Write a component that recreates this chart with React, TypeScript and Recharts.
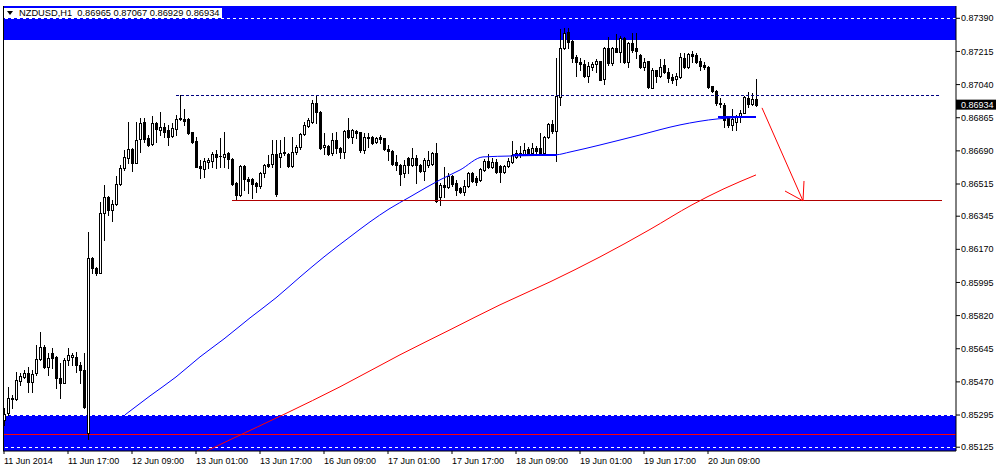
import React from 'react';
import { ComposedChart, Bar, Line, XAxis, YAxis, ReferenceArea, ReferenceLine } from 'recharts';

const openV = [0.85269,0.85306,0.85380,0.85380,0.85475,0.85496,0.85518,0.85470,0.85518,0.85591,0.85654,0.85549,0.85623,0.85602,0.85491,0.85465,0.85586,0.85602,0.85602,0.85560,0.85533,0.85200,0.86124,0.86072,0.86045,0.86362,0.86447,0.86378,0.86410,0.86516,0.86600,0.86653,0.86700,0.86626,0.86753,0.86843,0.86758,0.86727,0.86838,0.86801,0.86816,0.86801,0.86769,0.86806,0.86859,0.86859,0.86859,0.86790,0.86742,0.86610,0.86595,0.86632,0.86637,0.86674,0.86663,0.86658,0.86679,0.86647,0.86521,0.86457,0.86610,0.86542,0.86542,0.86521,0.86505,0.86574,0.86621,0.86621,0.86674,0.86658,0.86684,0.86674,0.86610,0.86684,0.86711,0.86779,0.86822,0.86843,0.86943,0.86896,0.86711,0.86716,0.86679,0.86748,0.86706,0.86684,0.86801,0.86764,0.86795,0.86790,0.86695,0.86764,0.86764,0.86737,0.86764,0.86758,0.86700,0.86690,0.86632,0.86616,0.86574,0.86653,0.86616,0.86653,0.86616,0.86584,0.86616,0.86621,0.86679,0.86447,0.86510,0.86500,0.86558,0.86521,0.86494,0.86473,0.86505,0.86574,0.86547,0.86537,0.86589,0.86637,0.86605,0.86632,0.86610,0.86579,0.86610,0.86632,0.86658,0.86679,0.86674,0.86700,0.86679,0.86706,0.86706,0.86679,0.86764,0.86832,0.86795,0.86975,0.87233,0.87318,0.87270,0.87186,0.87159,0.87149,0.87085,0.87133,0.87149,0.87165,0.87070,0.87233,0.87154,0.87233,0.87212,0.87286,0.87159,0.87260,0.87233,0.87196,0.87133,0.87165,0.87022,0.87117,0.87085,0.87144,0.87107,0.87080,0.87070,0.87080,0.87180,0.87133,0.87202,0.87196,0.87165,0.87144,0.87133,0.87033,0.87006,0.86943,0.86933,0.86869,0.86827,0.86843,0.86869,0.86890,0.86970,0.86938,0.86965];
const highV = [0.85333,0.85444,0.85401,0.85523,0.85518,0.85533,0.85549,0.85533,0.85665,0.85734,0.85665,0.85623,0.85650,0.85605,0.85570,0.85596,0.85650,0.85623,0.85628,0.85575,0.85623,0.86262,0.86127,0.86075,0.86420,0.86510,0.86450,0.86431,0.86558,0.86616,0.86695,0.86843,0.86703,0.86843,0.86864,0.86864,0.86774,0.86875,0.86840,0.86896,0.86838,0.86827,0.86838,0.86880,0.86985,0.86911,0.86861,0.86792,0.86764,0.86642,0.86653,0.86653,0.86684,0.86695,0.86758,0.86790,0.86684,0.86653,0.86523,0.86616,0.86616,0.86552,0.86547,0.86526,0.86579,0.86621,0.86669,0.86748,0.86748,0.86748,0.86764,0.86679,0.86764,0.86721,0.86785,0.86843,0.86864,0.86959,0.86985,0.86898,0.86785,0.86721,0.86785,0.86790,0.86711,0.86801,0.86864,0.86806,0.86801,0.86792,0.86785,0.86785,0.86766,0.86764,0.86774,0.86760,0.86721,0.86695,0.86669,0.86621,0.86642,0.86658,0.86706,0.86669,0.86618,0.86653,0.86690,0.86684,0.86732,0.86521,0.86605,0.86574,0.86563,0.86537,0.86500,0.86537,0.86579,0.86579,0.86558,0.86600,0.86647,0.86674,0.86653,0.86647,0.86616,0.86616,0.86653,0.86742,0.86695,0.86716,0.86732,0.86711,0.86732,0.86716,0.86785,0.86769,0.86838,0.86853,0.87180,0.87333,0.87339,0.87339,0.87273,0.87196,0.87180,0.87170,0.87159,0.87159,0.87175,0.87167,0.87239,0.87291,0.87239,0.87307,0.87297,0.87291,0.87265,0.87312,0.87312,0.87202,0.87180,0.87167,0.87128,0.87119,0.87175,0.87175,0.87128,0.87096,0.87101,0.87207,0.87207,0.87207,0.87217,0.87207,0.87180,0.87159,0.87138,0.87035,0.87012,0.86970,0.86943,0.86871,0.86911,0.86880,0.86906,0.86980,0.87001,0.86996,0.87067];
const lowV = [0.85243,0.85296,0.85333,0.85375,0.85454,0.85491,0.85417,0.85417,0.85507,0.85586,0.85544,0.85507,0.85544,0.85438,0.85386,0.85462,0.85560,0.85560,0.85523,0.85465,0.85333,0.85169,0.86045,0.86035,0.86043,0.86220,0.86352,0.86320,0.86405,0.86510,0.86589,0.86626,0.86584,0.86624,0.86684,0.86737,0.86716,0.86721,0.86737,0.86774,0.86764,0.86721,0.86764,0.86774,0.86853,0.86827,0.86779,0.86732,0.86603,0.86547,0.86552,0.86600,0.86605,0.86600,0.86605,0.86605,0.86600,0.86510,0.86431,0.86452,0.86484,0.86468,0.86442,0.86473,0.86494,0.86552,0.86605,0.86605,0.86452,0.86605,0.86669,0.86605,0.86605,0.86674,0.86700,0.86774,0.86816,0.86838,0.86838,0.86700,0.86674,0.86669,0.86669,0.86679,0.86653,0.86653,0.86758,0.86732,0.86758,0.86684,0.86679,0.86711,0.86727,0.86732,0.86732,0.86695,0.86642,0.86616,0.86589,0.86510,0.86552,0.86574,0.86610,0.86521,0.86579,0.86537,0.86605,0.86616,0.86420,0.86405,0.86447,0.86494,0.86505,0.86457,0.86468,0.86457,0.86500,0.86526,0.86510,0.86531,0.86584,0.86600,0.86600,0.86574,0.86526,0.86574,0.86605,0.86626,0.86653,0.86658,0.86669,0.86669,0.86669,0.86679,0.86669,0.86674,0.86758,0.86785,0.86637,0.86933,0.87230,0.87233,0.87159,0.87085,0.87117,0.87080,0.87054,0.87117,0.87107,0.87062,0.87044,0.87144,0.87144,0.87210,0.87159,0.87154,0.87133,0.87212,0.87180,0.87128,0.87117,0.87022,0.87020,0.87054,0.87080,0.87101,0.87054,0.87049,0.87038,0.87075,0.87128,0.87128,0.87159,0.87154,0.87117,0.87122,0.87022,0.87001,0.86933,0.86922,0.86816,0.86816,0.86801,0.86801,0.86843,0.86888,0.86922,0.86933,0.86929];
const closeV = [0.85301,0.85386,0.85383,0.85481,0.85502,0.85518,0.85470,0.85512,0.85591,0.85654,0.85549,0.85596,0.85596,0.85491,0.85465,0.85586,0.85612,0.85612,0.85560,0.85533,0.85338,0.86124,0.86072,0.86045,0.86362,0.86447,0.86378,0.86410,0.86516,0.86600,0.86658,0.86700,0.86626,0.86748,0.86838,0.86753,0.86721,0.86838,0.86806,0.86816,0.86790,0.86764,0.86811,0.86859,0.86861,0.86848,0.86785,0.86737,0.86605,0.86600,0.86637,0.86642,0.86674,0.86658,0.86661,0.86674,0.86647,0.86516,0.86457,0.86610,0.86542,0.86531,0.86516,0.86505,0.86574,0.86616,0.86610,0.86674,0.86463,0.86679,0.86679,0.86610,0.86684,0.86711,0.86779,0.86827,0.86853,0.86943,0.86896,0.86706,0.86721,0.86674,0.86748,0.86706,0.86684,0.86795,0.86764,0.86801,0.86785,0.86695,0.86764,0.86758,0.86732,0.86758,0.86753,0.86700,0.86690,0.86621,0.86616,0.86568,0.86616,0.86616,0.86653,0.86616,0.86584,0.86642,0.86642,0.86679,0.86426,0.86510,0.86500,0.86558,0.86516,0.86484,0.86473,0.86505,0.86574,0.86531,0.86526,0.86595,0.86637,0.86605,0.86632,0.86579,0.86579,0.86610,0.86637,0.86669,0.86679,0.86669,0.86695,0.86674,0.86706,0.86690,0.86674,0.86764,0.86832,0.86795,0.86980,0.87233,0.87312,0.87265,0.87180,0.87159,0.87149,0.87085,0.87138,0.87149,0.87165,0.87065,0.87233,0.87154,0.87233,0.87212,0.87286,0.87159,0.87260,0.87223,0.87217,0.87133,0.87159,0.87028,0.87117,0.87085,0.87133,0.87107,0.87075,0.87065,0.87085,0.87186,0.87133,0.87202,0.87191,0.87159,0.87138,0.87133,0.87028,0.87006,0.86943,0.86938,0.86853,0.86827,0.86859,0.86869,0.86890,0.86975,0.86938,0.86964,0.86934];

const xTickIdx = [0, 16, 32, 48, 64, 80, 96, 112, 128, 144, 160, 176];
const xTickLabels = ['11 Jun 2014', '11 Jun 17:00', '12 Jun 09:00', '13 Jun 01:00', '13 Jun 17:00', '16 Jun 09:00', '17 Jun 01:00', '17 Jun 17:00', '18 Jun 09:00', '19 Jun 01:00', '19 Jun 17:00', '20 Jun 09:00'];
const yTickValues = [0.87390, 0.87215, 0.87040, 0.86865, 0.86690, 0.86515, 0.86345, 0.86170, 0.85995, 0.85820, 0.85645, 0.85470, 0.85295, 0.85125];
const lastPrice = 0.86934;

const maBlueIdx = [30.25, 36.5, 43, 49, 55, 61.5, 68, 74, 80, 86.5, 91.5, 96.25, 101.5, 109, 114, 119.75, 127, 138, 141.5, 149, 159, 169, 178.5, 188];
const maBlueVal = [0.85296, 0.85396, 0.85496, 0.85602, 0.85697, 0.85808, 0.85914, 0.86024, 0.86130, 0.86236, 0.86315, 0.86383, 0.86447, 0.86537, 0.86589, 0.86658, 0.86663, 0.86669, 0.86684, 0.86721, 0.86774, 0.86827, 0.86859, 0.86869];
const maRedIdx = [50.75, 56.5, 70.25, 84, 99, 111.5, 124, 136.5, 149, 161.5, 172, 180, 188];
const maRedVal = [0.85106, 0.85164, 0.85301, 0.85444, 0.85613, 0.85745, 0.85877, 0.85998, 0.86130, 0.86275, 0.86405, 0.86490, 0.86563];

const topZone = [0.87275, 0.87455];
const bottomZone = [0.85105, 0.85295];
const zoneDashLevels = [0.87390, 0.85295, 0.85125];
const zoneRedLevel = 0.85190;
const resistance = { from: 43, to: 234, level: 0.86985 };
const support = { from: 57, to: 234.5, level: 0.86426 };
const blueFlats = [{ from: 127.25, to: 138.25, level: 0.86669 }, { from: 178.5, to: 188, level: 0.86868 }];
const arrowShaft = [{ x: 189.5, y: 0.86917 }, { x: 199.75, y: 0.86426 }];
const arrowHeadA = [{ x: 195.25, y: 0.86478 }, { x: 199.75, y: 0.86426 }];
const arrowHeadB = [{ x: 200, y: 0.86531 }, { x: 199.75, y: 0.86426 }];

const candles = openV.map((o, i) => ({ i, o, h: highV[i], l: lowV[i], c: closeV[i], range: [lowV[i], highV[i]] }));
const maBlue = maBlueIdx.map((i, k) => ({ i, v: maBlueVal[k] }));
const maRed = maRedIdx.map((i, k) => ({ i, v: maRedVal[k] }));

const FONT = 'Liberation Sans, Arial, sans-serif';

const Candle = (props: any) => {
  const { x, y, width, height, payload } = props;
  if (x == null || y == null || !payload) return null;
  const top = Math.min(y, y + height);
  const hgt = Math.abs(height);
  const { o, h, l, c } = payload;
  const cx = Math.round(x + width / 2);
  const pix = (v: number) => (h === l ? top : top + ((h - v) / (h - l)) * hgt);
  const yH = Math.round(top);
  const yL = Math.round(top + hgt);
  const bTop = Math.round(pix(Math.max(o, c)));
  const bBot = Math.round(pix(Math.min(o, c)));
  const up = c >= o;
  return (
    <g>
      <line x1={cx + 0.5} x2={cx + 0.5} y1={yH} y2={yL + 1} stroke="#000" strokeWidth={1} shapeRendering="crispEdges" />
      {bBot - bTop < 1 ? (
        <line x1={cx - 1} x2={cx + 2} y1={bTop + 0.5} y2={bTop + 0.5} stroke="#000" strokeWidth={1} shapeRendering="crispEdges" />
      ) : (
        <rect x={cx - 0.5} y={bTop + 0.5} width={2} height={bBot - bTop} fill={up ? '#fff' : '#000'} stroke="#000" strokeWidth={1} shapeRendering="crispEdges" />
      )}
    </g>
  );
};

const XTick = (props: any) => {
  const { x, y, payload } = props;
  const k = xTickIdx.indexOf(payload.value);
  return (
    <text x={x} y={y} dy={8} textAnchor="start" fontSize={9} fontFamily={FONT} fill="#000">
      {k >= 0 ? xTickLabels[k] : ''}
    </text>
  );
};

const YTick = (props: any) => {
  const { x, y, payload } = props;
  const v = payload.value;
  if (Math.abs(v - lastPrice) < 1e-7) {
    return (
      <g>
        <rect x={x - 5} y={y - 5} width={40} height={10} fill="#000" />
        <text x={x} y={y} dy="0.35em" textAnchor="start" fontSize={9} fontFamily={FONT} fill="#fff">{v.toFixed(5)}</text>
      </g>
    );
  }
  return (
    <text x={x} y={y} dy="0.35em" textAnchor="start" fontSize={9} fontFamily={FONT} fill="#000">{v.toFixed(5)}</text>
  );
};

export default function App() {
  return (
    <div style={{ position: 'absolute', left: 0, top: 0, width: 996, height: 472, background: '#fff' }}>
      <ComposedChart width={996} height={472} data={candles} margin={{ top: 6, right: 0, bottom: 0, left: 3 }}>
        <ReferenceArea y1={topZone[0]} y2={topZone[1]} fill="#0000ff" fillOpacity={1} stroke="none" ifOverflow="hidden" zIndex={-60} />
        <ReferenceArea y1={bottomZone[0]} y2={bottomZone[1]} fill="#0000ff" fillOpacity={1} stroke="none" ifOverflow="hidden" zIndex={-60} />
        {zoneDashLevels.map((lv) => (
          <ReferenceLine key={lv} y={lv} stroke="#fff" strokeDasharray="3 3" strokeWidth={1} zIndex={-50} shapeRendering="crispEdges" />
        ))}
        <ReferenceLine y={zoneRedLevel} stroke="#ff0000" strokeWidth={1} zIndex={-50} shapeRendering="crispEdges" />
        <ReferenceLine x={-0.25} stroke="#000" strokeWidth={1} shapeRendering="crispEdges" />
        <XAxis type="number" dataKey="i" domain={[-0.25, 238]} allowDataOverflow ticks={xTickIdx} interval={0} tick={<XTick />} tickSize={3} tickMargin={2} height={21} axisLine={{ stroke: '#000' }} tickLine={{ stroke: '#000' }} />
        <YAxis orientation="right" type="number" domain={[0.85105, 0.87455]} allowDataOverflow ticks={[...yTickValues, lastPrice]} interval={0} tick={<YTick />} tickSize={4} tickMargin={1} width={40} axisLine={{ stroke: '#000' }} tickLine={{ stroke: '#000' }} />
        <Line data={maBlue} dataKey="v" type="monotone" stroke="#0000ff" strokeWidth={1} dot={false} activeDot={false} isAnimationActive={false} />
        <Line data={maRed} dataKey="v" type="monotone" stroke="#ff0000" strokeWidth={1} dot={false} activeDot={false} isAnimationActive={false} />
        <ReferenceLine segment={[{ x: resistance.from, y: resistance.level }, { x: resistance.to, y: resistance.level }]} stroke="#000080" strokeDasharray="3 2" strokeWidth={1} shapeRendering="crispEdges" />
        <ReferenceLine segment={[{ x: support.from, y: support.level }, { x: support.to, y: support.level }]} stroke="#b00000" strokeWidth={1} shapeRendering="crispEdges" />
        {blueFlats.map((f, k) => (
          <ReferenceLine key={k} segment={[{ x: f.from, y: f.level }, { x: f.to, y: f.level }]} stroke="#0000ff" strokeWidth={2} shapeRendering="crispEdges" />
        ))}
        <Bar dataKey="range" shape={<Candle />} barSize={3} isAnimationActive={false} />
        <ReferenceLine segment={arrowShaft} stroke="#ff0000" strokeWidth={1} />
        <ReferenceLine segment={arrowHeadA} stroke="#ff0000" strokeWidth={1} />
        <ReferenceLine segment={arrowHeadB} stroke="#ff0000" strokeWidth={1} />
      </ComposedChart>
      <div style={{ position: 'absolute', left: 4, top: 8, height: 10, background: '#fff', font: `9.3px ${FONT}`, lineHeight: '10px', paddingLeft: 15, paddingRight: 2, whiteSpace: 'pre', color: '#000' }}>
        <div style={{ position: 'absolute', left: 3, top: 3, width: 0, height: 0, borderLeft: '3.5px solid transparent', borderRight: '3.5px solid transparent', borderTop: '4px solid #000' }} />
        {'NZDUSD,H1  0.86965 0.87067 0.86929 0.86934'}
      </div>
    </div>
  );
}
